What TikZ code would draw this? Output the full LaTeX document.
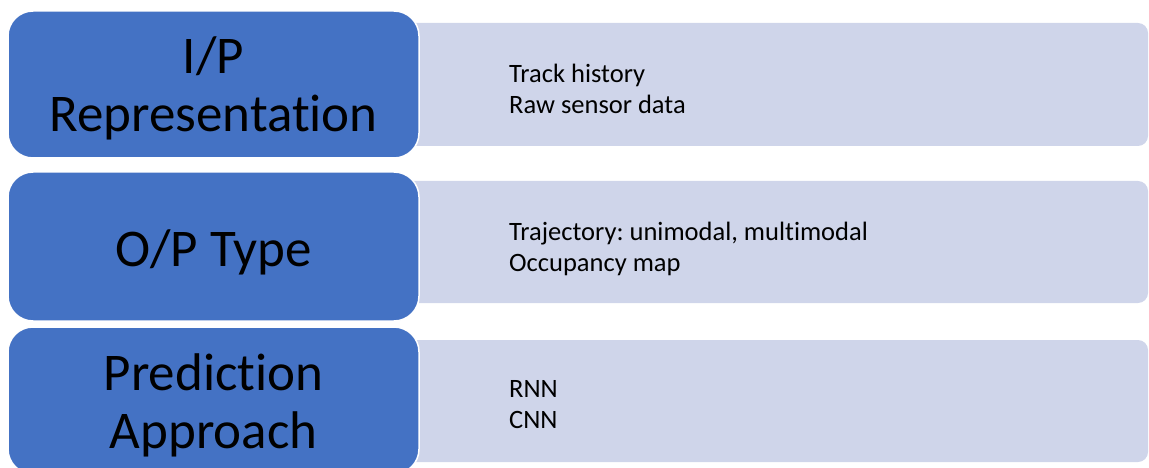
\documentclass[tikz,border=0pt]{standalone}
\usepackage{fontspec}
\setmainfont{Carlito}[Ligatures=NoCommon]
\definecolor{boxblue}{HTML}{4472C4}
\definecolor{boxlight}{HTML}{CFD5EA}
\frenchspacing
\begin{document}
\begin{tikzpicture}[x=1pt,y=-1pt,
  catbox/.style={fill=boxblue, draw=white, line width=1.5pt, rounded corners=25pt,
    minimum width=411pt, inner sep=0pt},
  detbox/.style={fill=boxlight, draw=none, rounded corners=10pt, inner sep=0pt,
    minimum width=768pt},
  cattext/.style={font=\fontsize{53}{58}\selectfont, align=center, text=black, inner sep=0pt},
  dettext/.style={font=\fontsize{26.5}{31}\selectfont, align=left, anchor=west, text=black, inner sep=0pt}]
\useasboundingbox (0,0) rectangle (1149,468);
% detail boxes (behind)
\node[detbox, minimum height=123pt] (ipd) at (764,84.5) {};
\node[detbox, minimum height=122pt] (opd) at (764,242) {};
\node[detbox, minimum height=122pt] (pad) at (764,401) {};
% category boxes
\node[catbox, minimum height=147pt] (ip) at (213.5,84.5) {};
\node[catbox, minimum height=149pt] (op) at (213.5,246.5) {};
\node[catbox, minimum height=147pt] (pa) at (213.5,400.5) {};
% category texts
\node[cattext] (ipt) at (213.5,88) {I/P\\Representation};
\node[cattext] (opt) at (213.5,252) {O/P Type};
\node[cattext] (pat) at (213.5,405) {Prediction\\Approach};
% detail texts
\node[dettext] (ipx) at (509,89) {Track history\\Raw sensor data};
\node[dettext] (opx) at (509,248.5) {Trajectory: unimodal, multimodal\\Occupancy map};
\node[dettext] (pax) at (509,404.5) {RNN\\CNN};
\end{tikzpicture}
\end{document}
